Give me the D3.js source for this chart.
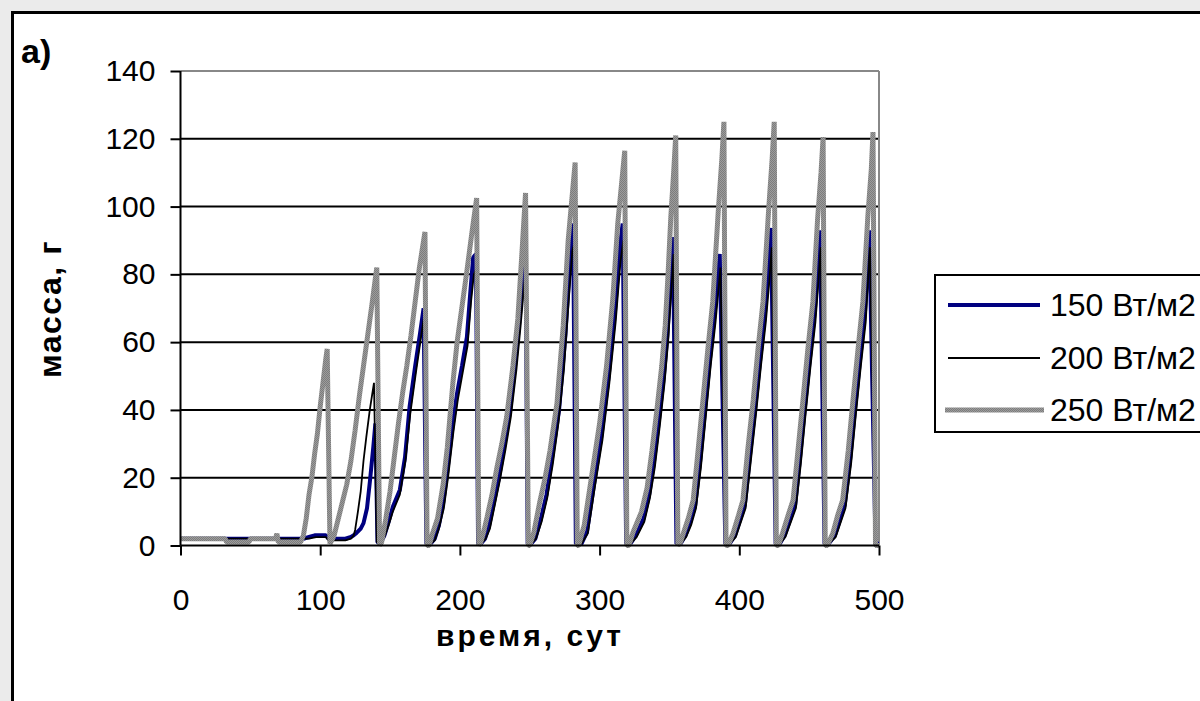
<!DOCTYPE html>
<html>
<head>
<meta charset="utf-8">
<script src="https://cdn.jsdelivr.net/npm/d3@7"></script>
<style>
  html, body { margin: 0; padding: 0; background: #ebebeb; }
  svg { display: block; }
</style>
</head>
<body>
<svg id="chart"></svg>
<script>
// --- data: [day, mass] ---
var seriesNames = ['150 Вт/м2', '200 Вт/м2', '250 Вт/м2'];
var xTicks = [0, 100, 200, 300, 400, 500];
var yTicks = [0, 20, 40, 60, 80, 100, 120, 140];

var series150 = [
  [0,2],[88,2],[92,2.5],[96,3],[104,3],[106,2],[118,2],[122,2.5],[124,3],
  [126,3.7],[129,5],[131,6.6],[133.5,11],[135.6,19],[138,29],[139.5,36],[141,1],[143,0.5],
  [146,3],[149,7],[152,11.4],[157,16.4],[160.7,26],[164,41],[168,53],[171.5,62.7],[174,70],[176,0.5],
  [179,0.5],[182,2],[185,6],[188,12.5],[191,22],[195,36],[198,45],[201.5,53],[205,61.5],[207.5,75],[209.5,85],[211.5,86],[213,0.5],
  [215,0.5],[218,2],[221,6],[224,12],[228,20],[232,30],[236,40],[240,55],[243,68],[245.5,80],[247,86.5],[248.5,0.5],
  [251,0.5],[254,2],[258,8],[262,15],[266,26],[271,40],[275.5,62],[279,85],[281,95],[283,0.5],
  [287,0.5],[291,4],[296,18],[301.5,33],[306.5,50],[311,69],[314.5,88],[316.5,95],[319,0.5],
  [322,0.5],[326,3],[331.5,8],[335.5,15],[339,25],[342.5,37],[346,50],[348.5,62],[350.5,76],[352.5,91],[355,0.5],
  [358,0.5],[361.5,3],[365,7],[368.5,12],[372,25],[375.5,40],[379,55],[382.5,69],[386,86],[390,0.5],
  [393,0.5],[397,3],[404,12],[407.5,26],[411.5,41],[415,55],[418.5,69],[421,82],[422.7,93.7],[426,0.5],
  [429,0.5],[432.5,3],[440,12],[443.5,26],[447,41],[450.5,55],[454,69],[456,80],[457.8,93],[461,0.5],
  [464,0.5],[468.5,3],[475.5,12],[479.5,26],[483,41],[486.5,55],[490,69],[491.5,80],[493,93],[497.5,0.5],[500,0.5]
];

var series200 = [
  [0,2],[88,2],[92,2],[97,2.5],[104,2.5],[106,1.5],[118,1.5],[122,2],[124,3],
  [125,4.6],[127,10],[129,16],[131,25],[133,32],[135.5,40],[137,44],[138.5,48],[140.5,1],[143,0.5],
  [146,2.5],[149,6],[152,10],[157,15],[161,25],[164.5,39],[168.5,51],[172,61],[174.5,68],[176.5,0.5],
  [179,0.5],[182,1.5],[185,5],[188.5,11],[191.5,20],[195.5,34],[198.5,43],[202,51],[205.5,59],[208,72],[210,80],[212,82],[213.5,0.5],
  [215,0.5],[218.5,2],[221.5,5],[224.5,11],[228.5,19],[232.5,28],[236.5,38],[240.5,52],[243.5,65],[246,77],[247.5,82],[249,0.5],
  [251,0.5],[254.5,2],[258.5,7],[262.5,14],[266.5,24],[270.5,36],[274.5,52],[277.5,70],[280.5,87],[282.5,90],[284,0.5],
  [287,0.5],[291.5,3.5],[296.5,17],[302,31],[307,48],[311.5,66],[315,84],[317,90],[319.5,0.5],
  [322,0.5],[326.5,2.5],[332,7],[336,14],[339.5,23],[343,35],[346.5,48],[349,60],[351,73],[353,86],[355.5,0.5],
  [358,0.5],[362,2.5],[365.5,6],[369,11],[372.5,23],[376,38],[379.5,53],[383,66],[386.5,82],[390,0.5],
  [393,0.5],[397.5,2.5],[404.5,11],[408,24],[412,39],[415.5,53],[419,66],[421.5,78],[423.2,88],[426,0.5],
  [429,0.5],[433,2.5],[440.5,11],[444,24],[447.5,39],[451,53],[454.5,66],[456.5,77],[458.3,88],[461,0.5],
  [464,0.5],[469,2.5],[476,11],[480,24],[483.5,39],[487,53],[490.5,66],[492,77],[493.5,88],[497.5,0.5],[500,0.5]
];

var series250 = [
  [0,2],[32,2],[33,1],[49,1],[50,2],[68,2],[69,3.5],[70,1],[86,1],
  [88,3],[90,8],[92,15],[94,20],[96,27],[98,33],[100,41],[102,48],[104,55],[105,58],[107,0.5],
  [110,3],[113,8],[116,13],[119,18],[122,25],[125,34],[128,44],[131,53],[134,62],[137,71],[140.5,82],[142.5,0],
  [144,1],[147,8],[150,16],[153,26],[156,36],[159,45],[162,53],[165,62],[168,72],[171,82],[175,92.5],[176.5,0],
  [178,0],[180,3],[184,8],[188,18],[191,29],[195,48],[198,60],[202,72],[205,81],[208.5,92],[212,102.5],[213.5,0],
  [215,1],[217,4],[219.5,8.5],[223,15],[226.5,23],[230,30],[233.5,38],[238,53],[241.5,67],[244.5,87],[247,104],[249,0],
  [250,0],[253,4],[257,12.5],[261,20],[264.5,28],[269.5,42],[274,65],[277.5,90],[282.5,113],[284,0],
  [285,0],[289,6],[294.5,21],[300,36],[305,53],[309.5,73],[313,95],[318,116.5],[319.5,0],
  [321,0],[324,4],[330,10],[334,17],[337.5,28],[341,40],[344.5,53],[347,65],[349,80],[351,97],[353,110],[354.5,121],[356,0],
  [358,1],[360,3.7],[363.5,8],[367,13.4],[370.5,28],[374,43],[377.5,58],[381,72],[385,99],[387.5,114],[389,125],[390.5,0],
  [392,0],[395.6,3.7],[399.5,9],[402.6,13.4],[406,28],[410,43],[413.4,58],[417,72],[421,99],[423.5,114],[425,125],[426.5,0],
  [428,0],[431,3.7],[435,9],[438.5,13.4],[442,28],[445.6,43],[449,57.6],[452.7,72],[456,96],[458.5,110],[460,120.5],[461.5,0],
  [463,0],[467,3.7],[470.5,9],[474,13.4],[478,28],[481.4,43],[485,58],[488.5,72],[492,97],[494.5,111],[495.7,122],[497.5,0],[500,0]
];

var allSeries = [series150, series200, series250];

// --- layout ---
var W = 1200, H = 701;
var plotL = 180.5, plotR = 879, plotT = 71, plotB = 545.5;
var FONT = '"Liberation Sans", Arial, sans-serif';

var svg = d3.select('#chart').attr('width', W).attr('height', H);

var defs = svg.append('defs');
var pat = defs.append('pattern')
    .attr('id', 'grayTex')
    .attr('patternUnits', 'userSpaceOnUse')
    .attr('width', 2).attr('height', 2);
pat.append('rect').attr('width', 2).attr('height', 2).attr('fill', '#9c9c9c');
pat.append('rect').attr('width', 1).attr('height', 1).attr('fill', '#7c7c7c');
pat.append('rect').attr('x', 1).attr('y', 1).attr('width', 1).attr('height', 1).attr('fill', '#7c7c7c');

// outer frame
svg.append('rect')
    .attr('x', 12.5).attr('y', 12.5)
    .attr('width', W + 20).attr('height', H + 20)
    .attr('fill', 'white').attr('stroke', 'black').attr('stroke-width', 3);

var x = d3.scaleLinear().domain([0, 500]).range([plotL, plotR]);
var y = d3.scaleLinear().domain([0, 140]).range([plotB, plotT]);

// grid lines
svg.append('g')
    .selectAll('line')
    .data(yTicks.filter(function(d){ return d > 0 && d < 140; }))
    .enter()
    .append('line')
    .attr('x1', plotL).attr('x2', plotR)
    .attr('y1', function(d){ return y(d); })
    .attr('y2', function(d){ return y(d); })
    .attr('stroke', 'black').attr('stroke-width', 2);

// gray top/right borders of plot area
svg.append('line').attr('x1', plotL).attr('x2', plotR).attr('y1', plotT).attr('y2', plotT)
    .attr('stroke', '#888').attr('stroke-width', 2);
svg.append('line').attr('x1', plotR).attr('x2', plotR).attr('y1', plotT).attr('y2', plotB)
    .attr('stroke', '#888').attr('stroke-width', 2);

// series
var line = d3.line()
    .x(function(d){ return x(d[0]); })
    .y(function(d){ return y(d[1]); });

var styles = [
    { stroke: '#000080', width: 4 },
    { stroke: '#000000', width: 1.8 },
    { stroke: 'url(#grayTex)', width: 5 }
];

svg.append('g')
    .selectAll('path')
    .data(allSeries)
    .enter()
    .append('path')
    .attr('d', line)
    .attr('fill', 'none')
    .attr('stroke', function(d, i){ return styles[i].stroke; })
    .attr('stroke-width', function(d, i){ return styles[i].width; })
    .attr('stroke-linejoin', 'bevel');

// axes
var yAxis = d3.axisLeft(y).tickValues(yTicks).tickSize(10).tickPadding(15);
var xAxis = d3.axisBottom(x).tickValues(xTicks).tickSize(10).tickPadding(33);

var gy = svg.append('g').attr('transform', 'translate(' + plotL + ',0)').call(yAxis);
var gx = svg.append('g').attr('transform', 'translate(0,' + plotB + ')').call(xAxis);

[gx, gy].forEach(function(g){
    g.select('.domain').attr('stroke', 'black').attr('stroke-width', 2);
    g.selectAll('.tick line').attr('stroke', 'black').attr('stroke-width', 2);
    g.selectAll('.tick text')
        .attr('fill', 'black')
        .style('font-family', FONT)
        .style('font-size', '30px');
});
gy.select('.domain').attr('d', 'M0,' + plotB + 'V' + plotT);
gx.select('.domain').attr('d', 'M' + plotL + ',0H' + plotR);

// titles
svg.append('text')
    .attr('x', 21).attr('y', 63)
    .style('font-family', FONT)
    .style('font-size', '34px').style('font-weight', 'bold')
    .text('a)');

svg.append('text')
    .attr('transform', 'translate(61,309) rotate(-90)')
    .attr('text-anchor', 'middle')
    .style('font-family', FONT)
    .style('font-size', '32px').style('font-weight', 'bold')
    .style('letter-spacing', '1.5px')
    .text('масса, г');

svg.append('text')
    .attr('x', 530).attr('y', 646)
    .attr('text-anchor', 'middle')
    .style('font-family', FONT)
    .style('font-size', '30px').style('font-weight', 'bold')
    .style('letter-spacing', '3px')
    .text('время, сут');

// legend
var legend = svg.append('g');
legend.append('rect')
    .attr('x', 935).attr('y', 275)
    .attr('width', 300).attr('height', 157)
    .attr('fill', 'white').attr('stroke', 'black').attr('stroke-width', 2);

var rowY = [305, 358, 410];
var items = legend.selectAll('g.item')
    .data(seriesNames)
    .enter()
    .append('g')
    .attr('class', 'item');

items.append('line')
    .attr('x1', function(d, i){ return i === 2 ? 945 : 948; })
    .attr('x2', function(d, i){ return i === 2 ? 1044 : 1040; })
    .attr('y1', function(d, i){ return rowY[i]; })
    .attr('y2', function(d, i){ return rowY[i]; })
    .attr('stroke', function(d, i){ return styles[i].stroke; })
    .attr('stroke-width', function(d, i){ return styles[i].width; });

items.append('text')
    .attr('x', 1050)
    .attr('y', function(d, i){ return rowY[i] + 11; })
    .style('font-family', FONT)
    .style('font-size', '32px')
    .text(function(d){ return d; });
</script>
</body>
</html>
